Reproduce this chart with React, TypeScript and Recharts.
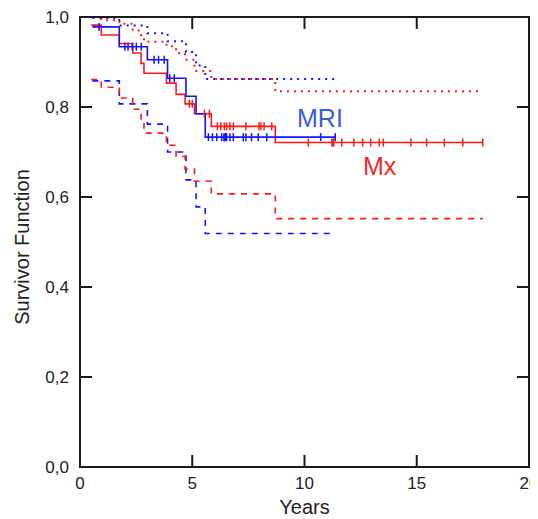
import { ComposedChart, Line, Scatter, XAxis, YAxis } from 'recharts';

const yearTicks = [0, 5, 10, 15, 20];
const survTicks = [0, 0.2, 0.4, 0.6, 0.8, 1.0];
const innerYearTicks = [5, 10, 15];
const innerSurvTicks = [0.2, 0.4, 0.6, 0.8];

// MRI group (blue)
const mriTimes = [0.55, 1.75, 3.0, 3.9, 4.72, 5.17, 5.58, 11.4];
const mriSurv = [0.978, 0.934, 0.905, 0.864, 0.824, 0.785, 0.733, 0.733];
const mriLowerTimes = [0.55, 1.75, 3.0, 3.9, 4.72, 5.17, 5.58, 11.3];
const mriLower = [0.858, 0.807, 0.762, 0.7, 0.638, 0.578, 0.519, 0.519];
const mriUpperTimes = [0.55, 1.75, 3.0, 3.9, 4.72, 5.17, 5.58, 11.35];
const mriUpper = [0.998, 0.981, 0.964, 0.946, 0.922, 0.892, 0.862, 0.862];
const mriCensored = [
  0.85, 2.0, 2.14, 2.33, 2.51, 2.73, 3.3, 3.5, 3.75, 4.0, 4.2, 5.72, 5.9, 6.09, 6.31,
  6.41, 6.45, 6.49, 6.53, 6.68, 6.83, 7.27, 7.39, 7.64, 7.94, 8.32, 10.72, 11.37,
];

// Mx group (red)
const mxTimes = [0.5, 0.95, 1.75, 2.35, 2.72, 2.85, 3.85, 4.28, 4.68, 5.1, 5.85, 8.7, 17.94];
const mxSurv = [0.982, 0.96, 0.941, 0.92, 0.897, 0.875, 0.853, 0.828, 0.807, 0.785, 0.757, 0.721, 0.721];
const mxLower = [0.861, 0.844, 0.82, 0.795, 0.77, 0.742, 0.715, 0.69, 0.662, 0.635, 0.607, 0.552, 0.552];
const mxUpper = [1.0, 0.993, 0.985, 0.97, 0.955, 0.945, 0.935, 0.92, 0.905, 0.88, 0.862, 0.835, 0.835];
const mxCensored = [
  4.87, 5.0, 5.54, 5.76, 6.12, 6.27, 6.43, 6.53, 6.68, 6.83, 7.39, 7.97, 8.06, 8.2, 8.54,
  10.17, 11.22, 11.26, 11.3, 11.66, 12.2, 12.59, 12.95, 13.33, 13.51, 14.74, 15.44,
  16.23, 17.05, 17.94,
];

const BLUE = '#1414ff';
const RED = '#ff1a1a';
const AXIS = '#1a1a1a';
const FONT = '"Liberation Sans", Arial, sans-serif';

const PLOT_LEFT = 80;
const PLOT_RIGHT = 529;
const PLOT_TOP = 17;
const PLOT_BOTTOM = 467;
const TICK = 12;

const toPoints = (times: number[], vals: number[]) => times.map((t, i) => ({ t, s: vals[i] }));

// survival value at censor time
const stepAt = (times: number[], vals: number[], t: number) => {
  let v = vals[0];
  for (let i = 0; i < times.length; i++) {
    if (times[i] <= t) v = vals[i];
  }
  return v;
};

const censorPoints = (cens: number[], times: number[], vals: number[]) =>
  cens.map((t) => ({ t, s: stepAt(times, vals, t) }));

const fmt = (v: number) => v.toFixed(1).replace('.', ',');

// frame tick positions (decoration only)
const xPx = (v: number) => PLOT_LEFT + (v / 20) * (PLOT_RIGHT - PLOT_LEFT);
const yPx = (v: number) => PLOT_BOTTOM - v * (PLOT_BOTTOM - PLOT_TOP);

const LeftTick = (props: any) => (
  <text x={69} y={props.y} dy={6} textAnchor="end" fontSize={17} fill="#222" fontFamily={FONT}>
    {fmt(props.payload.value)}
  </text>
);

const BottomTick = (props: any) => (
  <text x={props.x} y={489} textAnchor="middle" fontSize={17} fill="#222" fontFamily={FONT}>
    {props.payload.value}
  </text>
);

const censorShape = (color: string) => (p: any) => (
  <line x1={p.cx} x2={p.cx} y1={p.cy - 4} y2={p.cy + 4} stroke={color} strokeWidth={1.5} />
);

const framePath =
  `M${PLOT_LEFT},${PLOT_TOP} L${PLOT_RIGHT},${PLOT_TOP} L${PLOT_RIGHT},${PLOT_BOTTOM} ` +
  `L${PLOT_LEFT},${PLOT_BOTTOM} Z`;

const tickPath = [
  ...innerYearTicks.map(
    (v) => `M${xPx(v)},${PLOT_BOTTOM} V${PLOT_BOTTOM - TICK} M${xPx(v)},${PLOT_TOP} V${PLOT_TOP + TICK}`,
  ),
  ...innerSurvTicks.map(
    (v) => `M${PLOT_LEFT},${yPx(v)} H${PLOT_LEFT + TICK} M${PLOT_RIGHT},${yPx(v)} H${PLOT_RIGHT - TICK}`,
  ),
].join(' ');

export default function App() {
  return (
    <div style={{ position: 'relative', margin: -8, width: 546, height: 527, background: '#fff' }}>
      <ComposedChart width={538} height={519} margin={{ top: PLOT_TOP, right: 9, bottom: 22, left: 20 }}>
        <XAxis
          type="number"
          dataKey="t"
          domain={[0, 20]}
          ticks={yearTicks}
          allowDataOverflow
          height={30}
          axisLine={false}
          tickLine={false}
          tick={<BottomTick />}
          interval={0}
        />
        <YAxis
          type="number"
          dataKey="s"
          domain={[0, 1]}
          ticks={survTicks}
          allowDataOverflow
          width={60}
          axisLine={false}
          tickLine={false}
          tick={<LeftTick />}
          interval={0}
        />

        <Line data={toPoints(mriUpperTimes, mriUpper)} dataKey="s" type="stepAfter" stroke={BLUE} strokeWidth={2} strokeDasharray="2 5" dot={false} isAnimationActive={false} />
        <Line data={toPoints(mxTimes, mxUpper)} dataKey="s" type="stepAfter" stroke={RED} strokeWidth={2} strokeDasharray="2 5" strokeDashoffset={3} dot={false} isAnimationActive={false} />
        <Line data={toPoints(mriLowerTimes, mriLower)} dataKey="s" type="stepAfter" stroke={BLUE} strokeWidth={1.6} strokeDasharray="6 6" dot={false} isAnimationActive={false} />
        <Line data={toPoints(mxTimes, mxLower)} dataKey="s" type="stepAfter" stroke={RED} strokeWidth={1.6} strokeDasharray="6 6" dot={false} isAnimationActive={false} />
        <Line data={toPoints(mxTimes, mxSurv)} dataKey="s" type="stepAfter" stroke={RED} strokeWidth={1.6} dot={false} isAnimationActive={false} />
        <Line data={toPoints(mriTimes, mriSurv)} dataKey="s" type="stepAfter" stroke={BLUE} strokeWidth={1.6} dot={false} isAnimationActive={false} />
        <Scatter data={censorPoints(mxCensored, mxTimes, mxSurv)} dataKey="s" shape={censorShape(RED)} isAnimationActive={false} />
        <Scatter data={censorPoints(mriCensored, mriTimes, mriSurv)} dataKey="s" shape={censorShape(BLUE)} isAnimationActive={false} />
      </ComposedChart>

      <svg
        width={538}
        height={519}
        viewBox="0 0 538 519"
        style={{ position: 'absolute', left: 0, top: 0, pointerEvents: 'none', overflow: 'visible' }}
      >
        <path d={framePath} fill="none" stroke={AXIS} strokeWidth={2} />
        <path d={tickPath} fill="none" stroke={AXIS} strokeWidth={2} />
        <text x={297} y={127} fontSize={25} fill="#3b5bdb" fontFamily={FONT}>MRI</text>
        <text x={363} y={175} fontSize={25} fill="#f0282a" fontFamily={FONT}>Mx</text>
        <text x={(PLOT_LEFT + PLOT_RIGHT) / 2} y={514} textAnchor="middle" fontSize={20} fill="#222" fontFamily={FONT}>Years</text>
        <text x={29} y={247} textAnchor="middle" fontSize={20} fill="#222" fontFamily={FONT} transform="rotate(-90 29 247)">
          Survivor Function
        </text>
      </svg>
    </div>
  );
}
